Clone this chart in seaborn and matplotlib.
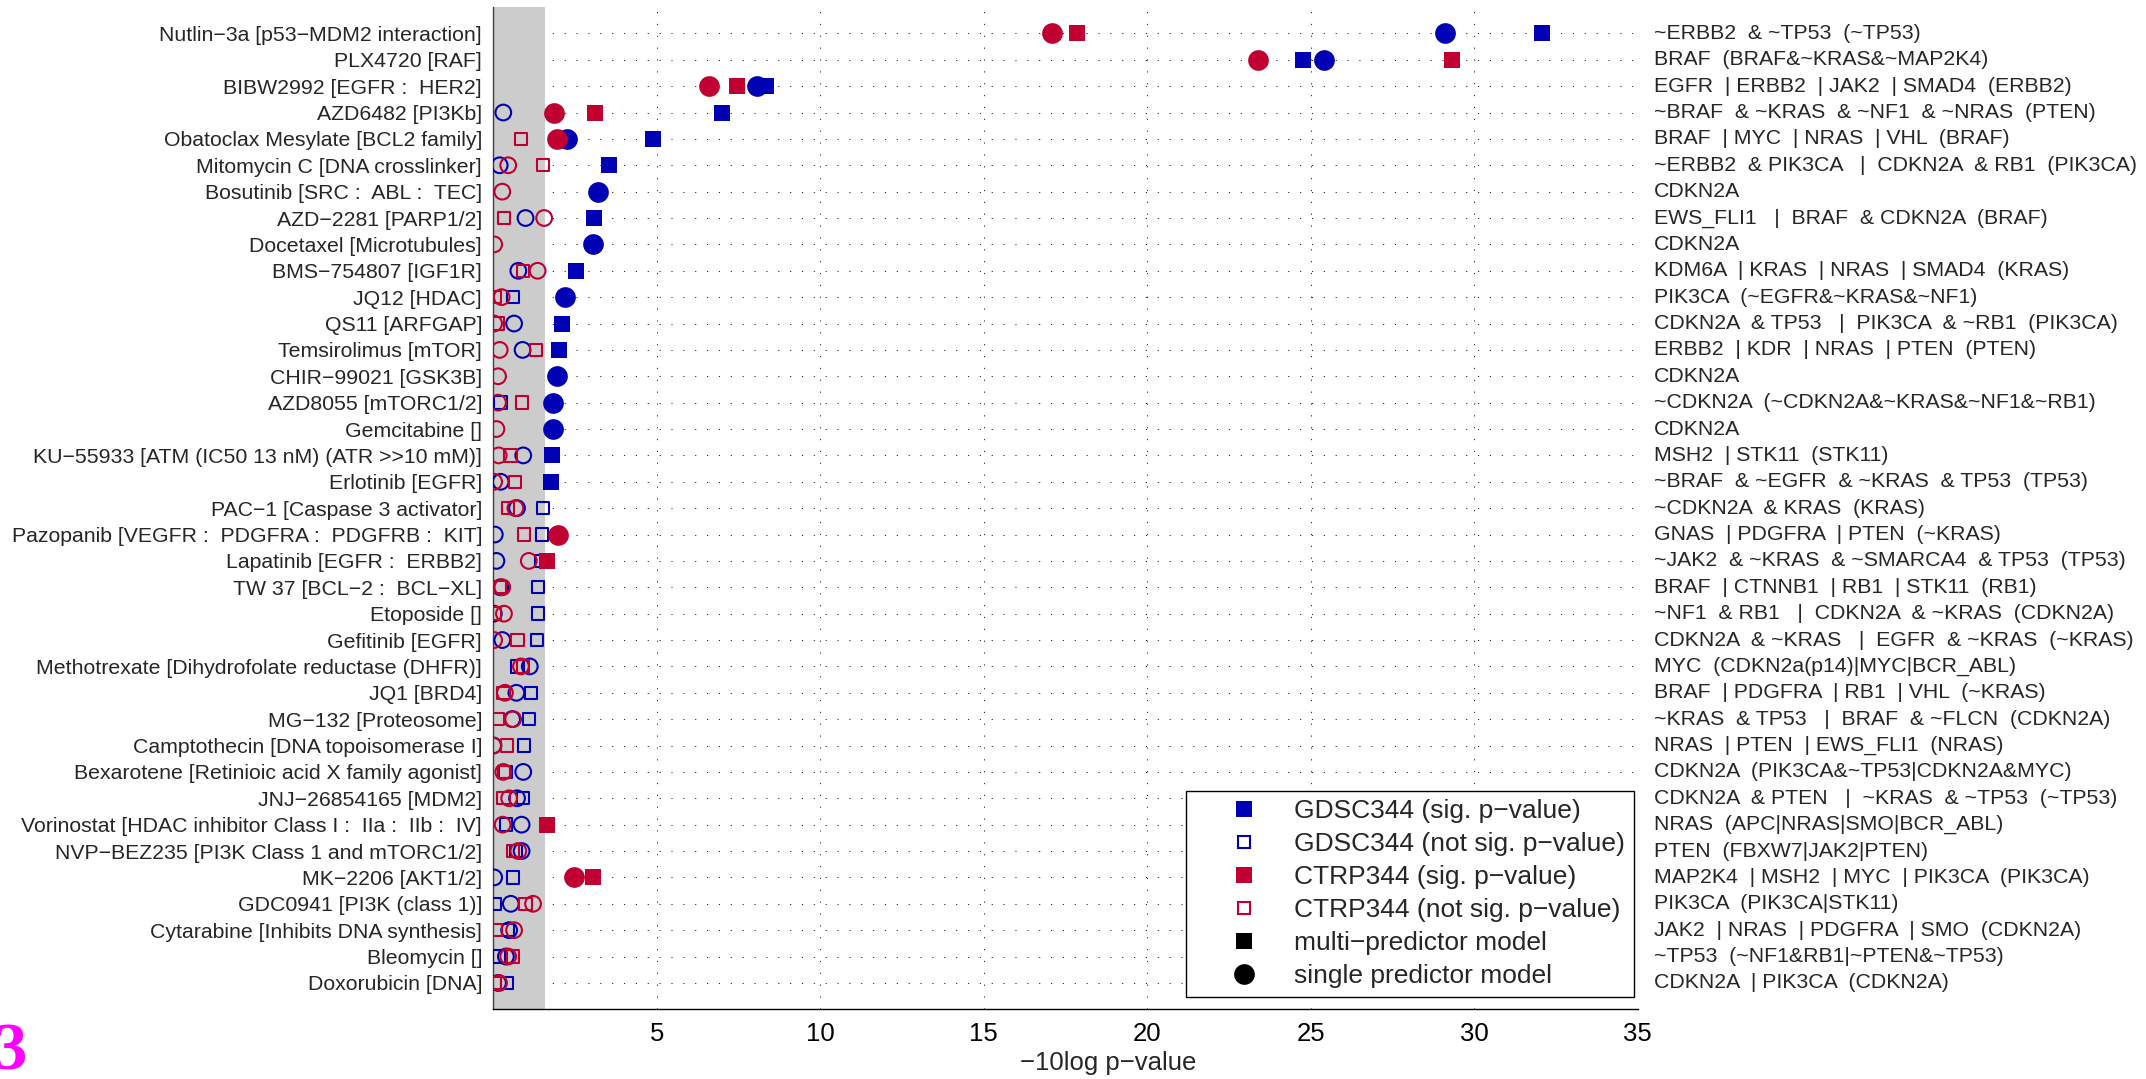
import numpy as np
import pandas as pd
import matplotlib
matplotlib.use("Agg")
import matplotlib.pyplot as plt
import matplotlib.transforms as mtransforms
from matplotlib.lines import Line2D
import seaborn as sns

# ---- data -------------------------------------------------------------
drugs = [
    "Nutlin\u22123a [p53\u2212MDM2 interaction]",
    "PLX4720 [RAF]",
    "BIBW2992 [EGFR :  HER2]",
    "AZD6482 [PI3Kb]",
    "Obatoclax Mesylate [BCL2 family]",
    "Mitomycin C [DNA crosslinker]",
    "Bosutinib [SRC :  ABL :  TEC]",
    "AZD\u22122281 [PARP1/2]",
    "Docetaxel [Microtubules]",
    "BMS\u2212754807 [IGF1R]",
    "JQ12 [HDAC]",
    "QS11 [ARFGAP]",
    "Temsirolimus [mTOR]",
    "CHIR\u221299021 [GSK3B]",
    "AZD8055 [mTORC1/2]",
    "Gemcitabine []",
    "KU\u221255933 [ATM (IC50 13 nM) (ATR >>10 mM)]",
    "Erlotinib [EGFR]",
    "PAC\u22121 [Caspase 3 activator]",
    "Pazopanib [VEGFR :  PDGFRA :  PDGFRB :  KIT]",
    "Lapatinib [EGFR :  ERBB2]",
    "TW 37 [BCL\u22122 :  BCL\u2212XL]",
    "Etoposide []",
    "Gefitinib [EGFR]",
    "Methotrexate [Dihydrofolate reductase (DHFR)]",
    "JQ1 [BRD4]",
    "MG\u2212132 [Proteosome]",
    "Camptothecin [DNA topoisomerase I]",
    "Bexarotene [Retinioic acid X family agonist]",
    "JNJ\u221226854165 [MDM2]",
    "Vorinostat [HDAC inhibitor Class I :  IIa :  IIb :  IV]",
    "NVP\u2212BEZ235 [PI3K Class 1 and mTORC1/2]",
    "MK\u22122206 [AKT1/2]",
    "GDC0941 [PI3K (class 1)]",
    "Cytarabine [Inhibits DNA synthesis]",
    "Bleomycin []",
    "Doxorubicin [DNA]",
]

features = [
    "~ERBB2  & ~TP53  (~TP53)",
    "BRAF  (BRAF&~KRAS&~MAP2K4)",
    "EGFR  | ERBB2  | JAK2  | SMAD4  (ERBB2)",
    "~BRAF  & ~KRAS  & ~NF1  & ~NRAS  (PTEN)",
    "BRAF  | MYC  | NRAS  | VHL  (BRAF)",
    "~ERBB2  & PIK3CA   |  CDKN2A  & RB1  (PIK3CA)",
    "CDKN2A",
    "EWS_FLI1   |  BRAF  & CDKN2A  (BRAF)",
    "CDKN2A",
    "KDM6A  | KRAS  | NRAS  | SMAD4  (KRAS)",
    "PIK3CA  (~EGFR&~KRAS&~NF1)",
    "CDKN2A  & TP53   |  PIK3CA  & ~RB1  (PIK3CA)",
    "ERBB2  | KDR  | NRAS  | PTEN  (PTEN)",
    "CDKN2A",
    "~CDKN2A  (~CDKN2A&~KRAS&~NF1&~RB1)",
    "CDKN2A",
    "MSH2  | STK11  (STK11)",
    "~BRAF  & ~EGFR  & ~KRAS  & TP53  (TP53)",
    "~CDKN2A  & KRAS  (KRAS)",
    "GNAS  | PDGFRA  | PTEN  (~KRAS)",
    "~JAK2  & ~KRAS  & ~SMARCA4  & TP53  (TP53)",
    "BRAF  | CTNNB1  | RB1  | STK11  (RB1)",
    "~NF1  & RB1   |  CDKN2A  & ~KRAS  (CDKN2A)",
    "CDKN2A  & ~KRAS   |  EGFR  & ~KRAS  (~KRAS)",
    "MYC  (CDKN2a(p14)|MYC|BCR_ABL)",
    "BRAF  | PDGFRA  | RB1  | VHL  (~KRAS)",
    "~KRAS  & TP53   |  BRAF  & ~FLCN  (CDKN2A)",
    "NRAS  | PTEN  | EWS_FLI1  (NRAS)",
    "CDKN2A  (PIK3CA&~TP53|CDKN2A&MYC)",
    "CDKN2A  & PTEN   |  ~KRAS  & ~TP53  (~TP53)",
    "NRAS  (APC|NRAS|SMO|BCR_ABL)",
    "PTEN  (FBXW7|JAK2|PTEN)",
    "MAP2K4  | MSH2  | MYC  | PIK3CA  (PIK3CA)",
    "PIK3CA  (PIK3CA|STK11)",
    "JAK2  | NRAS  | PDGFRA  | SMO  (CDKN2A)",
    "~TP53  (~NF1&RB1|~PTEN&~TP53)",
    "CDKN2A  | PIK3CA  (CDKN2A)",
]

nan = np.nan
# -10log p-values per drug (multi-predictor and single predictor models)
gdsc_multi = [32.07, 24.78, 8.34, 7.01, 4.90, 3.55, nan, 3.09, nan, 2.54,
              0.61, 2.11, 2.02, nan, 0.23, nan, 1.81, 1.78, 1.53, 1.50,
              1.48, 1.38, 1.37, 1.35, 0.74, 1.15, 1.10, 0.95, 0.38, 0.92,
              0.39, 0.69, 0.61, 0.05, 0.45, 0.18, 0.43]
gdsc_single = [29.12, 25.40, 8.06, 0.31, 2.27, 0.20, 3.20, 0.99, 3.06, 0.77,
               2.20, 0.64, 0.90, 1.96, 1.84, 1.84, 0.92, 0.23, 0.73, 0.05,
               0.10, 0.22, 0.02, 0.28, 1.12, 0.71, 0.58, 0.01, 0.92, 0.73,
               0.87, 0.87, 0.03, 0.54, 0.49, 0.39, 0.15]
ctrp_multi = [17.85, 29.31, 7.47, 3.12, 0.86, 1.53, nan, 0.34, nan, 0.92,
              0.05, 0.15, 1.31, nan, 0.89, nan, 0.53, 0.66, 0.46, 0.95,
              1.65, 0.20, 0.05, 0.74, 0.92, 0.32, 0.15, 0.43, 0.33, 0.32,
              1.65, 0.61, 3.06, 0.99, 0.08, 0.61, 0.05]
ctrp_single = [17.09, 23.39, 6.61, 1.86, 1.96, 0.46, 0.28, 1.56, 0.03, 1.36,
               0.26, 0.03, 0.20, 0.15, 0.15, 0.10, 0.17, 0.03, 0.68, 1.98,
               1.09, 0.28, 0.33, 0.03, 0.85, 0.36, 0.61, 0.00, 0.31, 0.49,
               0.29, 0.77, 2.46, 1.22, 0.64, 0.46, 0.18]

SIG_LEVEL = 1.6
x_ticks = [5, 10, 15, 20, 25, 30, 35]

# ---- styling ----------------------------------------------------------
sns.set_style("white")
plt.rcParams["font.family"] = ["Liberation Sans", "DejaVu Sans"]

BLUE = "#0000B4"
RED = "#C00030"
LABEL_SIZE = 15.3

series = [
    ("GDSC344", "multi", gdsc_multi, BLUE),
    ("GDSC344", "single", gdsc_single, BLUE),
    ("CTRP344", "multi", ctrp_multi, RED),
    ("CTRP344", "single", ctrp_single, RED),
]

records = []
for dataset, model, vals, _ in series:
    for i, v in enumerate(vals):
        if not np.isnan(v):
            records.append({"drug": drugs[i], "pos": i, "dataset": dataset,
                            "model": model, "value": v, "sig": v > SIG_LEVEL})
df = pd.DataFrame(records)

fig = plt.figure(figsize=(21.46, 10.79), dpi=100)
ax = fig.add_axes([0.2298, 0.0646, 0.7631 - 0.2298, 0.9935 - 0.0646])

n = len(drugs)
ax.set_xlim(0, 35)
ax.set_ylim(n, -1)

# non-significant band
ax.axvspan(0, SIG_LEVEL, color="#CCCCCC", lw=0, zorder=1)

marker_style = {
    ("multi", True): dict(marker="s", s=144, lw=0),
    ("multi", False): dict(marker="s", s=79, lw=1.5),
    ("single", True): dict(marker="o", s=222, lw=0),
    ("single", False): dict(marker="o", s=128, lw=1.5),
}

z = 3
for dataset, model, _, col in series:
    for sig in (False, True):
        sub = df[(df.dataset == dataset) & (df.model == model) & (df.sig == sig)]
        if sub.empty:
            continue
        st = marker_style[(model, sig)]
        sns.scatterplot(data=sub, x="value", y="pos", ax=ax, legend=False,
                        marker=st["marker"], s=st["s"], linewidth=st["lw"],
                        facecolor=col if sig else "none", edgecolor=col,
                        zorder=z)
        z += 1

# axes decoration
ax.set_yticks(range(n))
ax.set_yticklabels(drugs, fontsize=LABEL_SIZE)
ax.set_xticks(x_ticks)
ax.set_xticklabels([str(t) for t in x_ticks], fontsize=18.5)
ax.tick_params(axis="y", length=0, pad=8)
ax.tick_params(axis="x", direction="in", length=9, width=1, pad=9, colors="k")
ax.set_xlabel("\u221210log p\u2212value", fontsize=18.5)
ax.xaxis.set_label_coords(0.5375, -0.042)
ax.set_ylabel("")

ax.set_axisbelow(True)
ax.grid(True, linestyle=(0, (1.2, 11)), linewidth=0.7, color="#222222")
for side in ("top", "right"):
    ax.spines[side].set_visible(False)
ax.spines["left"].set_color("#404040")
ax.spines["left"].set_linewidth(1)
ax.spines["bottom"].set_color("k")
ax.spines["bottom"].set_linewidth(1)

# predictor features on the right
trans = mtransforms.blended_transform_factory(ax.transAxes, ax.transData)
for i, feat in enumerate(features):
    ax.text(1.0145, i, feat, transform=trans, ha="left", va="center",
            fontsize=LABEL_SIZE, clip_on=False)

# legend
handles = [
    Line2D([], [], ls="none", marker="s", ms=12, mfc=BLUE, mec=BLUE, mew=0),
    Line2D([], [], ls="none", marker="s", ms=8.9, mfc="none", mec=BLUE, mew=1.5),
    Line2D([], [], ls="none", marker="s", ms=12, mfc=RED, mec=RED, mew=0),
    Line2D([], [], ls="none", marker="s", ms=8.9, mfc="none", mec=RED, mew=1.5),
    Line2D([], [], ls="none", marker="s", ms=12, mfc="k", mec="k", mew=0),
    Line2D([], [], ls="none", marker="o", ms=14.9, mfc="k", mec="k", mew=0),
]
labels = [
    "GDSC344 (sig. p\u2212value)",
    "GDSC344 (not sig. p\u2212value)",
    "CTRP344 (sig. p\u2212value)",
    "CTRP344 (not sig. p\u2212value)",
    "multi\u2212predictor model",
    "single predictor model",
]
leg = ax.legend(handles, labels, loc="lower right",
                bbox_to_anchor=(0.9965, 0.0123), borderaxespad=0,
                fontsize=19, handlelength=3.75, handletextpad=0.02,
                labelspacing=0.34, borderpad=0.33, fancybox=False,
                framealpha=1, edgecolor="k")
leg.get_frame().set_linewidth(1.0)
leg.set_zorder(20)

# panel tag
fig.text(-0.003, 0.009, "3", fontsize=48, color="#FF00FF", fontweight="bold",
         family=["Liberation Serif", "DejaVu Serif"], ha="left", va="baseline")

fig.savefig("out.png", dpi=100)
